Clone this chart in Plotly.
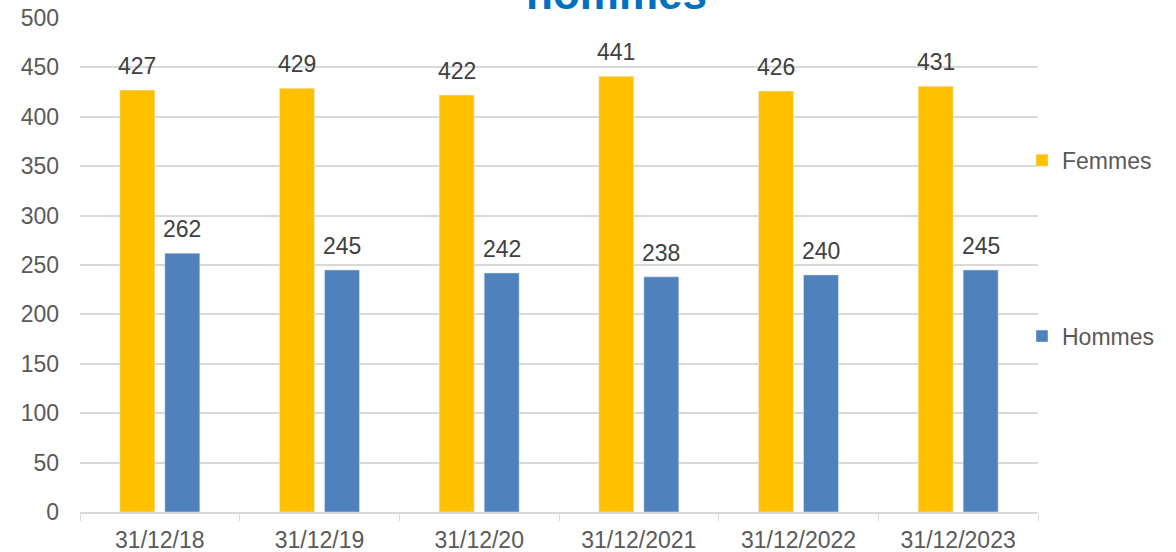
import plotly.graph_objects as go

categories = ["31/12/18", "31/12/19", "31/12/20", "31/12/2021", "31/12/2022", "31/12/2023"]
femmes = [427, 429, 422, 441, 426, 431]
hommes = [262, 245, 242, 238, 240, 245]
y_ticks = [0, 50, 100, 150, 200, 250, 300, 350, 400, 450, 500]
title_text = "hommes"

FONT = "Liberation Sans, Arial, sans-serif"
C_F = "#FFC000"
C_H = "#4F81BD"

fig = go.Figure()
fig.add_trace(go.Bar(name="Femmes", x=categories, y=femmes, marker_color=C_F,
                     legendgroup="f"))
fig.add_trace(go.Bar(name="Hommes", x=categories, y=hommes, marker_color=C_H,
                     legendgroup="h"))

off = 22.5 / 159.7
for i, (f, h) in enumerate(zip(femmes, hommes)):
    for xv, yv in ((i - off, f), (i + off, h)):
        fig.add_annotation(x=xv, y=yv, xref="x", yref="y", text=str(yv),
                           showarrow=False, yanchor="bottom", yshift=9,
                           font=dict(family=FONT, size=23, color="#404040"))

fig.add_annotation(text="<b>" + title_text + "</b>", xref="paper", yref="paper",
                   x=0.5605, y=0.9966, xanchor="center", yanchor="bottom",
                   showarrow=False, font=dict(family=FONT, size=44, color="#0070C0"))

fig.update_layout(
    width=1176, height=552,
    margin=dict(l=80, r=138, t=18, b=40, autoexpand=False),
    paper_bgcolor="white", plot_bgcolor="white",
    barmode="group", bargap=0.4365, bargroupgap=0.222,
    font=dict(family=FONT, size=23, color="#595959"),
    legend=dict(x=0.9833, y=0.7557, xanchor="left", yanchor="top",
                tracegroupgap=143, font=dict(family=FONT, size=23, color="#595959"),
                bgcolor="rgba(0,0,0,0)"),
    showlegend=True,
)
fig.update_xaxes(type="category", tickson="boundaries", ticks="outside", ticklen=7,
                 tickcolor="#d9d9d9", showline=True, linecolor="#d9d9d9", linewidth=1.5,
                 showgrid=False, automargin=False, ticklabelstandoff=7,
                 tickfont=dict(size=23, color="#595959"))
fig.update_yaxes(range=[0, 500], tickvals=y_ticks, showgrid=True, gridcolor="#d9d9d9",
                 gridwidth=1.5, zeroline=False, showline=False, automargin=False,
                 tickfont=dict(size=23, color="#595959"), ticks="", ticklabelstandoff=20)

fig.write_html("out.html", config={"displayModeBar": False},
               post_script="document.body.style.margin='0';document.body.style.overflow='hidden';")
